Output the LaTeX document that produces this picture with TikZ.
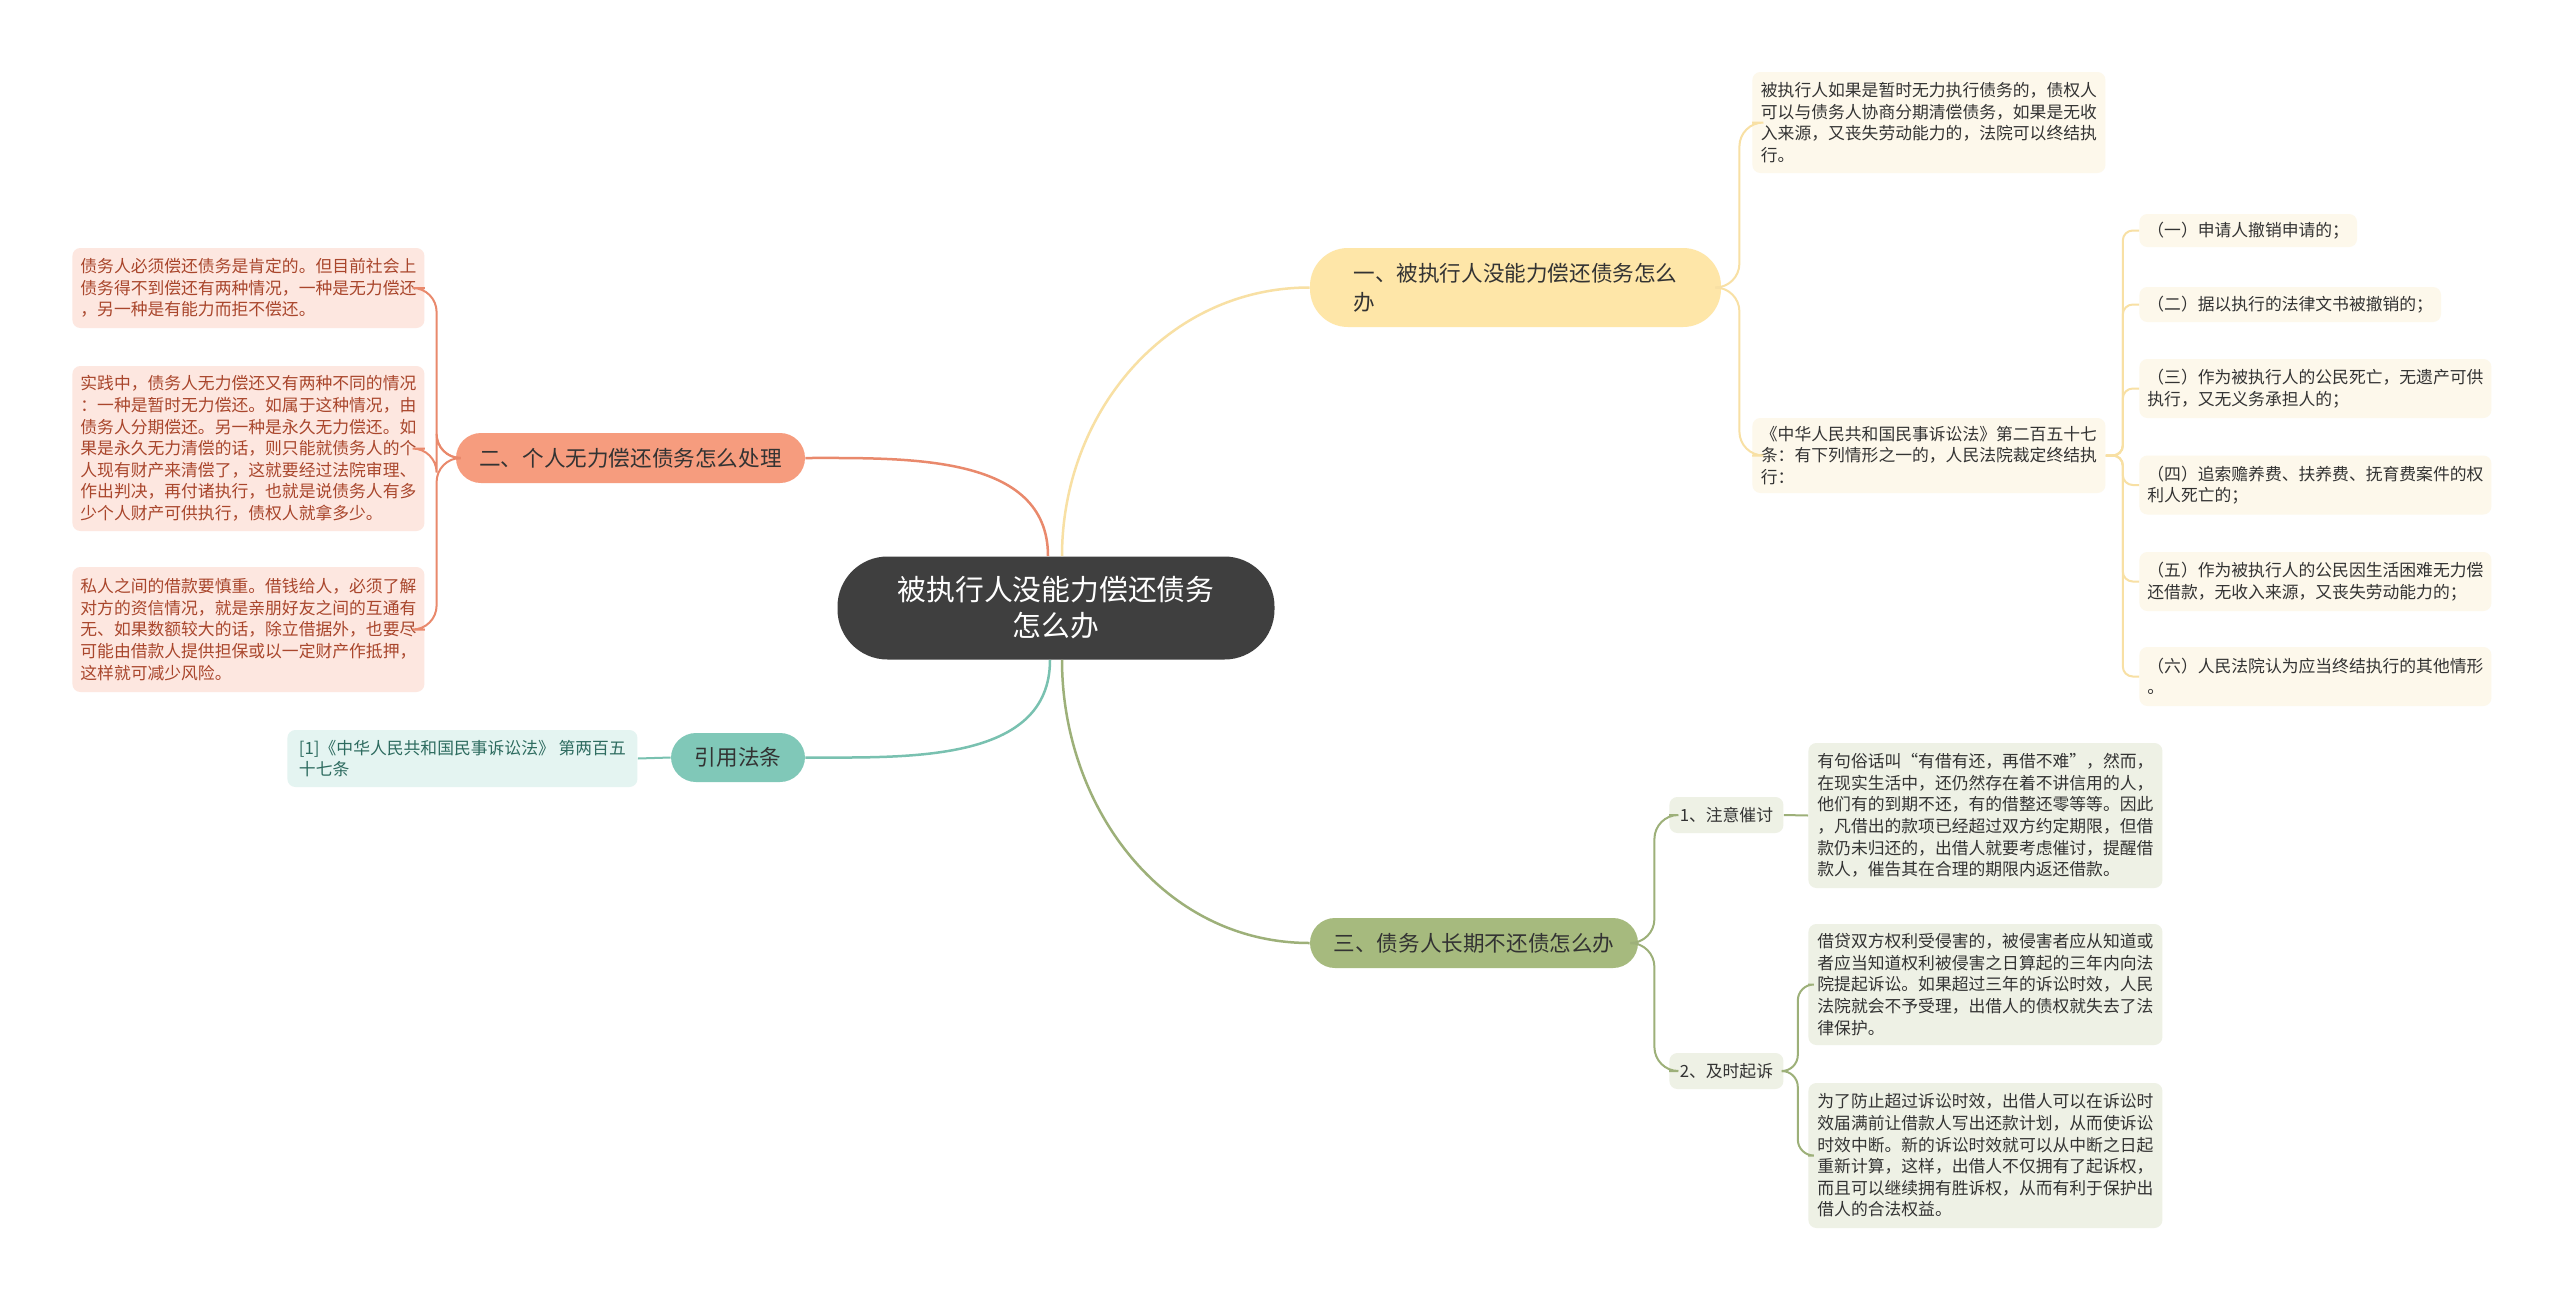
\documentclass[tikz,border=0pt]{standalone}
\usepackage{fontspec}
\setmainfont{Noto Sans CJK SC}
\definecolor{rootgray}{HTML}{3F3F3F}
\definecolor{yelmain}{HTML}{FEE6A8}
\definecolor{yelline}{HTML}{F8E0A4}
\definecolor{yelleaf}{HTML}{FDF8EB}
\definecolor{ormain}{HTML}{F69C7E}
\definecolor{orline}{HTML}{E9896C}
\definecolor{orleaf}{HTML}{FDE7E0}
\definecolor{ortext}{HTML}{A9462C}
\definecolor{tealmain}{HTML}{80C8B8}
\definecolor{tealline}{HTML}{79C1B0}
\definecolor{tealleaf}{HTML}{E4F4F1}
\definecolor{tealtext}{HTML}{2D6B5F}
\definecolor{grmain}{HTML}{A6BA7E}
\definecolor{grline}{HTML}{9DB079}
\definecolor{grleaf}{HTML}{EEF1E5}
\definecolor{darktext}{HTML}{333333}
\begin{document}
\begin{tikzpicture}[x=0.5pt,y=-0.5pt,
	root/.style={rectangle,fill=rootgray,text=white,rounded corners=25pt,align=center,minimum width=218.5pt,minimum height=51.5pt,font=\fontsize{14.4}{18}\selectfont},
	branch/.style={rectangle,text=darktext,align=left,minimum height=25pt,rounded corners=12.5pt,font=\fontsize{10.8}{14.7}\selectfont},
	leaf/.style={rectangle,anchor=west,align=left,rounded corners=4pt,inner xsep=4pt,inner ysep=3pt,font=\fontsize{8.4}{10.8}\selectfont},
	mainline/.style={line width=1.25pt},
	subline/.style={line width=1pt}]
	\fill[white] (0,0) rectangle (2560,1301);
	\useasboundingbox (0,0) rectangle (2560,1301);

	% root and main branches
	\node[root] (root) at (1056,608) {被执行人没能力偿还债务\\怎么办};
	\node[branch,fill=yelmain,minimum width=205.5pt,minimum height=39.5pt,rounded corners=19pt] (b1) at (1515.5,287.5) {一、被执行人没能力偿还债务怎么\\办};
	\node[branch,fill=ormain,minimum width=174.5pt] (b2) at (630.5,458) {二、个人无力偿还债务怎么处理};
	\node[branch,fill=grmain,minimum width=164pt] (b3) at (1474,943) {三、债务人长期不还债怎么办};
	\node[branch,fill=tealmain,minimum width=67pt,minimum height=24.5pt] (b4) at (738,757.5) {引用法条};

	\draw[mainline,yelline] ([xshift=3pt]root.north) to[out=90,in=180] (b1.west);
	\draw[mainline,orline] ([xshift=-4pt]root.north) to[out=90,in=0] (b2.east);
	\draw[mainline,grline] ([xshift=3pt]root.south) to[out=-90,in=180] (b3.west);
	\draw[mainline,tealline] ([xshift=-3pt]root.south) to[out=-90,in=0] (b4.east);

	% branch one
	\node[leaf,fill=yelleaf,text=darktext,minimum width=176.5pt,minimum height=50.5pt] (y1) at (1752,122.5) {被执行人如果是暂时无力执行债务的，债权人\\可以与债务人协商分期清偿债务，如果是无收\\入来源，又丧失劳动能力的，法院可以终结执\\行。};
	\node[leaf,fill=yelleaf,text=darktext,minimum width=176.5pt,minimum height=37.5pt] (y2) at (1752,455.5) {《中华人民共和国民事诉讼法》第二百五十七\\条：有下列情形之一的，人民法院裁定终结执\\行：};
	\node[leaf,fill=yelleaf,text=darktext,minimum width=104.5pt,minimum height=16.5pt] (it1) at (2139,230.5) {（一）申请人撤销申请的；};
	\node[leaf,fill=yelleaf,text=darktext,minimum width=148pt,minimum height=17.5pt] (it2) at (2139,304.5) {（二）据以执行的法律文书被撤销的；};
	\node[leaf,fill=yelleaf,text=darktext,minimum width=175pt,minimum height=29.5pt] (it3) at (2139,388.5) {（三）作为被执行人的公民死亡，无遗产可供\\执行，又无义务承担人的；};
	\node[leaf,fill=yelleaf,text=darktext,minimum width=175pt,minimum height=29.5pt] (it4) at (2139,485) {（四）追索赡养费、扶养费、抚育费案件的权\\利人死亡的；};
	\node[leaf,fill=yelleaf,text=darktext,minimum width=175pt,minimum height=29.5pt] (it5) at (2139,581.5) {（五）作为被执行人的公民因生活困难无力偿\\还借款，无收入来源，又丧失劳动能力的；};
	\node[leaf,fill=yelleaf,text=darktext,minimum width=175pt,minimum height=29.5pt] (it6) at (2139,676.5) {（六）人民法院认为应当终结执行的其他情形\\。};

	\draw[subline,yelline,rounded corners=12pt] (b1.east) -- ++(18,0) |- (y1.west);
	\draw[subline,yelline,rounded corners=12pt] (b1.east) -- ++(18,0) |- (y2.west);
	\foreach \i in {1,...,6}
		\draw[subline,yelline,rounded corners=5pt] (y2.east) -- ++(17,0) |- (it\i.west);

	% branch two
	\node[leaf,fill=orleaf,text=ortext,minimum width=175.5pt,minimum height=40pt] (o1) at (72,288) {债务人必须偿还债务是肯定的。但目前社会上\\债务得不到偿还有两种情况，一种是无力偿还\\，另一种是有能力而拒不偿还。};
	\node[leaf,fill=orleaf,text=ortext,minimum width=175.5pt,minimum height=82.5pt] (o2) at (72,448.5) {实践中，债务人无力偿还又有两种不同的情况\\：一种是暂时无力偿还。如属于这种情况，由\\债务人分期偿还。另一种是永久无力偿还。如\\果是永久无力清偿的话，则只能就债务人的个\\人现有财产来清偿了，这就要经过法院审理、\\作出判决，再付诸执行，也就是说债务人有多\\少个人财产可供执行，债权人就拿多少。};
	\node[leaf,fill=orleaf,text=ortext,minimum width=175.5pt,minimum height=62.5pt] (o3) at (72,629.5) {私人之间的借款要慎重。借钱给人，必须了解\\对方的资信情况，就是亲朋好友之间的互通有\\无、如果数额较大的话，除立借据外，也要尽\\可能由借款人提供担保或以一定财产作抵押，\\这样就可减少风险。};

	\foreach \i in {1,2,3}
		\draw[subline,orline,rounded corners=12pt] (b2.west) -- ++(-19,0) |- (o\i.east);

	% branch three
	\node[leaf,fill=grleaf,text=darktext,minimum width=57pt,minimum height=18pt] (g1) at (1669,815) {1、注意催讨};
	\node[leaf,fill=grleaf,text=darktext,minimum width=57pt,minimum height=18pt] (g2) at (1669,1071) {2、及时起诉};
	\node[leaf,fill=grleaf,text=darktext,minimum width=177pt,minimum height=72.5pt] (g1a) at (1808,815.5) {有句俗话叫“有借有还，再借不难”，然而，\\在现实生活中，还仍然存在着不讲信用的人，\\他们有的到期不还，有的借整还零等等。因此\\，凡借出的款项已经超过双方约定期限，但借\\款仍未归还的，出借人就要考虑催讨，提醒借\\款人，催告其在合理的期限内返还借款。};
	\node[leaf,fill=grleaf,text=darktext,minimum width=177pt,minimum height=60.5pt] (g2a) at (1808,984.5) {借贷双方权利受侵害的，被侵害者应从知道或\\者应当知道权利被侵害之日算起的三年内向法\\院提起诉讼。如果超过三年的诉讼时效，人民\\法院就会不予受理，出借人的债权就失去了法\\律保护。};
	\node[leaf,fill=grleaf,text=darktext,minimum width=177pt,minimum height=72.5pt] (g2b) at (1808,1155.5) {为了防止超过诉讼时效，出借人可以在诉讼时\\效届满前让借款人写出还款计划，从而使诉讼\\时效中断。新的诉讼时效就可以从中断之日起\\重新计算，这样，出借人不仅拥有了起诉权，\\而且可以继续拥有胜诉权，从而有利于保护出\\借人的合法权益。};

	\draw[subline,grline,rounded corners=12pt] (b3.east) -- ++(16,0) |- (g1.west);
	\draw[subline,grline,rounded corners=12pt] (b3.east) -- ++(16,0) |- (g2.west);
	\draw[subline,grline] (g1.east) -- (g1a.west);
	\draw[subline,grline,rounded corners=8pt] (g2.east) -- ++(14,0) |- (g2a.west);
	\draw[subline,grline,rounded corners=8pt] (g2.east) -- ++(14,0) |- (g2b.west);

	% citation
	\node[leaf,fill=tealleaf,text=tealtext,minimum width=175pt,minimum height=28.5pt] (t1) at (287,758.5) {[1]《中华人民共和国民事诉讼法》 第两百五\\十七条};
	\draw[subline,tealline] (b4.west) -- (t1.east);
\end{tikzpicture}
\end{document}
